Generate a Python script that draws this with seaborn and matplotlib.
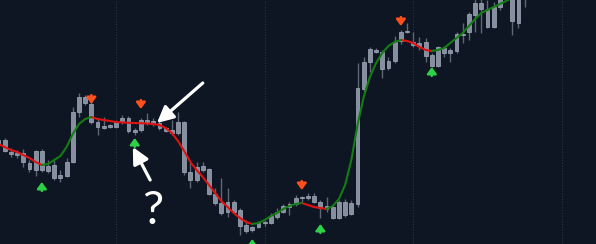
import numpy as np
import pandas as pd
import matplotlib
matplotlib.use("Agg")
import matplotlib.pyplot as plt
import seaborn as sns

# ---------------- data ----------------
high = [112,112,102,100,101,90,100,101,90,90,
        80,92,143,157,155,148,132,133,126,130,
        135,134,122,132,137,132,129,123,130,138,
        129,87,88,88,82,62,72,62,50,42,
        30,24,29,30,37,42,46,48,55,54,
        57,57,50,53,44,50,51,50,187,193,
        203,202,200,193,214,220,227,218,213,212,
        197,204,204,202,218,227,238,255,255,250,
        248,260,275,265,262,285]
low = [102,98,93,92,83,78,74,78,77,70,
       68,73,87,133,145,126,115,121,122,122,
       126,117,115,118,125,124,120,118,115,115,
       75,62,68,78,55,45,35,33,37,15,
       17,18,22,24,26,31,37,35,44,48,
       50,47,32,38,31,31,33,35,43,158,
       178,197,172,180,187,206,217,203,200,188,
       183,183,193,188,197,207,210,218,217,222,
       222,240,252,215,222,243]
body_top = [110,110,98,97,97,87,99,99,84,85,
            75,88,138,153,153,146,128,124,125,128,
            132,132,120,130,130,129,127,122,120,128,
            128,78,83,84,81,56,47,48,48,40,
            25,23,27,28,34,38,44,46,52,53,
            54,54,48,44,43,48,48,47,162,188,
            201,200,198,189,208,218,219,208,207,208,
            195,203,202,200,216,216,236,247,247,241,
            243,255,270,260,258,280]
body_bot = [105,99,96,95,88,81,80,80,79,72,
            72,74,88,138,147,128,123,122,123,123,
            128,119,118,120,128,126,122,119,117,117,
            78,70,70,80,56,47,37,38,38,24,
            19,20,23,27,27,33,38,43,46,52,
            52,48,42,41,32,32,35,36,46,161,
            188,198,181,182,189,209,218,205,204,194,
            184,184,197,197,199,215,218,235,241,223,
            223,243,255,229,227,255]
smooth = [106,103,100,98,95,92,88,85,86,90,
          94,103,116,126,131,133,131,130,129,128,
          127.6,127.2,127,126.8,126.5,126,125,122,117,109,
          99,88,80,73,65,57,49,43,37,32,
          28,26,27,30,34,37,41,44,46,47,
          45,43,42,41,44,51,65,90,125,153,
          173,187,197,204,208,210,209,207,203,200,
          199,200,202,207,212,217,224,231,237,240,
          243,246,249,252,255,258]

sell_idx = [15, 23, 49, 65]
sell_price = [146, 141, 60, 224]
buy_idx = [7, 22, 41, 52, 70]
buy_price = [68, 112, 11, 26, 183]

# ---------------- style ----------------
BG = "#0d1622"
sns.set_theme(style="dark", rc={"axes.facecolor": BG, "figure.facecolor": BG})

fig = plt.figure(figsize=(5.96, 2.44), dpi=100)
ax = fig.add_axes([0, 0, 1, 1])
ax.set_facecolor(BG)

n = len(high)
idx = np.arange(n)

# vertical grid lines
for gx in [19, 43, 67, 91]:
    ax.axvline(gx, color="#2a3441", lw=0.8, ls=(0, (1, 1.5)), zorder=0)

# candles
ax.vlines(idx, low, high, color="#5f6774", lw=1.0, zorder=1)
bt = np.array(body_top, float)
bb = np.array(body_bot, float)
ax.bar(idx, np.maximum(bt - bb, 0.8), bottom=bb, width=0.62,
       color="#858fa0", edgecolor="#a3acba", linewidth=0.5, zorder=2)

# smoothed line coloured by slope, drawn with seaborn
vals = np.array(smooth, float)
trend = np.where(np.diff(vals) > 0, "up", "down")
rows = []
run = 0
for i in range(n - 1):
    if i > 0 and trend[i] != trend[i - 1]:
        run += 1
    rows.append((i, vals[i], trend[i], run))
    rows.append((i + 1, vals[i + 1], trend[i], run))
df = pd.DataFrame(rows, columns=["idx", "value", "trend", "run"]).drop_duplicates()
sns.lineplot(data=df, x="idx", y="value", hue="trend", units="run",
             estimator=None, sort=True, palette={"up": "#137d13", "down": "#e01212"},
             lw=1.5, legend=False, ax=ax, zorder=3)

# signal arrows
ARW = dict(arrowstyle="-|>,head_length=0.55,head_width=0.4", lw=1.7,
           mutation_scale=7, shrinkA=0, shrinkB=0)
for xi, p in zip(sell_idx, sell_price):
    ax.annotate("", xy=(xi, p), xytext=(xi, p + 9),
                arrowprops=dict(color="#ff4f1c", **ARW), zorder=4)
for xi, p in zip(buy_idx, buy_price):
    ax.annotate("", xy=(xi, p), xytext=(xi, p - 9),
                arrowprops=dict(color="#2fd048", **ARW), zorder=4)

# hand-drawn white annotation arrows and question mark
ax.annotate("", xy=(25.6, 127), xytext=(33.0, 167),
            arrowprops=dict(arrowstyle="-|>,head_length=0.7,head_width=0.35",
                            color="white", lw=2.3, mutation_scale=14,
                            shrinkA=0, shrinkB=0), zorder=5)
ax.annotate("", xy=(21.7, 103), xytext=(24.5, 70),
            arrowprops=dict(arrowstyle="-|>,head_length=0.7,head_width=0.35",
                            color="white", lw=2.3, mutation_scale=14,
                            shrinkA=0, shrinkB=0), zorder=5)
ax.text(24.9, 39, "?", color="white", fontsize=34, ha="center", va="center",
        family=["Lato", "DejaVu Sans"], fontweight="normal", zorder=5)

ax.set_xlim(0.24, 96.53)
ax.set_ylim(6, 250)
ax.set_xticks([])
ax.set_yticks([])
ax.set_xlabel("")
ax.set_ylabel("")
for s in ax.spines.values():
    s.set_visible(False)

fig.savefig("out.png", dpi=100, facecolor=BG)
